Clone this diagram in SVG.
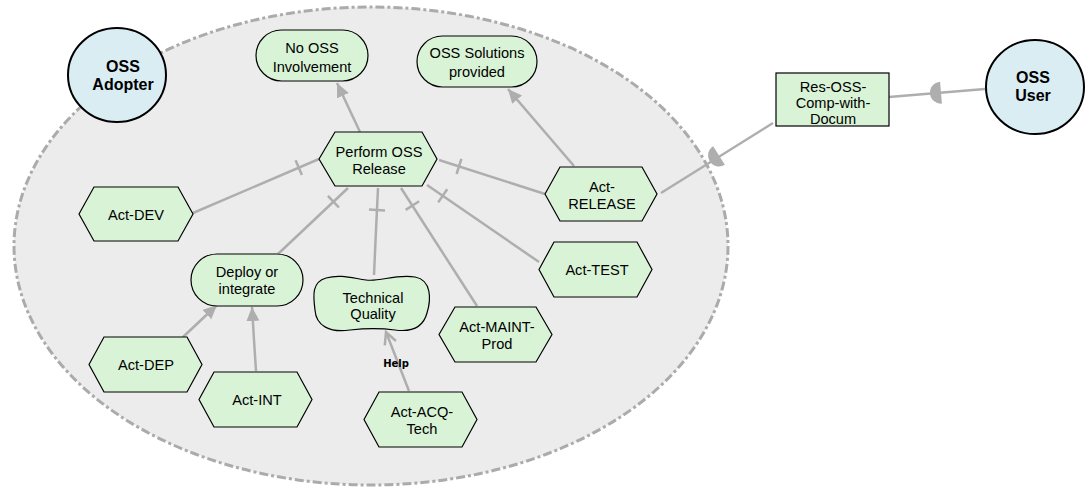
<svg xmlns="http://www.w3.org/2000/svg" width="1089" height="492" viewBox="0 0 1089 492">
<defs>
<style>
.bd{fill:#ececec;stroke:#ababab;stroke-width:3;stroke-dasharray:9 3 3 3}
.act{fill:#d9edf3;stroke:#000;stroke-width:2}
.n{fill:#d9f3d7;stroke:#000;stroke-width:1.2}
.t{font-family:"Liberation Sans",Arial,sans-serif;font-size:14.6px;fill:#000;text-anchor:middle}
.ta{font-family:"Liberation Sans",Arial,sans-serif;font-size:16px;font-weight:bold;fill:#000;text-anchor:middle}
.lk{fill:none;stroke:#aeaeae;stroke-width:2.5}
.bar{stroke:#aeaeae;stroke-width:2.5}
.dd{fill:#aeaeae}
.hl{font-family:"DejaVu Sans",sans-serif;font-size:10px;font-weight:bold;fill:#000;text-anchor:middle}
</style>
<marker id="ah" markerUnits="userSpaceOnUse" markerWidth="16" markerHeight="14" refX="14" refY="6.5" orient="auto">
<path d="M0,0 L14,6.5 L0,13 Z" fill="#aeaeae"/>
</marker>
<marker id="ao" markerUnits="userSpaceOnUse" markerWidth="18" markerHeight="18" refX="13" refY="8" orient="auto">
<path d="M1,2 L13,8 L1,14" fill="none" stroke="#aeaeae" stroke-width="2.5"/>
</marker>
</defs>

<ellipse id="boundary" class="bd" cx="371" cy="246" rx="357" ry="239"/>

<g id="connectors">
<line class="lk" x1="360" y1="132" x2="337" y2="83" marker-end="url(#ah)"/>
<line class="lk" x1="574" y1="166" x2="508" y2="89" marker-end="url(#ah)"/>
<line class="lk" x1="183" y1="337" x2="217" y2="305" marker-end="url(#ah)"/>
<path class="lk" d="M256,371 L254,340 L252,307" marker-end="url(#ah)"/>
<line class="lk" x1="409" y1="391" x2="386" y2="332" marker-end="url(#ao)"/>
<line class="lk" x1="193" y1="213" x2="319" y2="159"/>
<line class="bar" x1="301.9" y1="175.1" x2="295.6" y2="160.3"/>
<line class="lk" x1="278" y1="254" x2="348" y2="188"/>
<line class="bar" x1="338.9" y1="207.5" x2="327.9" y2="195.9"/>
<path class="lk" d="M374,275 L376,230 L378,188"/>
<line class="bar" x1="385" y1="210.4" x2="369" y2="209.6"/>
<line class="lk" x1="477" y1="306" x2="401" y2="188"/>
<line class="bar" x1="419.1" y1="201.3" x2="405.7" y2="209.9"/>
<line class="lk" x1="539" y1="262" x2="427" y2="185"/>
<line class="bar" x1="447.2" y1="189.2" x2="438.2" y2="202.4"/>
<line class="lk" x1="545" y1="194" x2="439" y2="160"/>
<line class="bar" x1="461.4" y1="158.8" x2="456.6" y2="174"/>
<line class="lk" x1="985" y1="89" x2="889" y2="97"/>
<path class="dd" d="M0,-11 A11,11 0 0 0 0,11 Z" transform="translate(941,92.7) rotate(-4.8)"/>
<line class="lk" x1="773" y1="123" x2="661" y2="193"/>
<path class="dd" d="M0,-11 A11,11 0 0 0 0,11 Z" transform="translate(719,155.5) rotate(-32)"/>
<text class="hl" x="396" y="367">Help</text>
</g>

<g id="oss-adopter">
<ellipse class="act" cx="117" cy="75" rx="49" ry="47"/>
<text class="ta" x="123" y="72">OSS</text>
<text class="ta" x="123" y="90">Adopter</text>
</g>

<g id="oss-user">
<ellipse class="act" cx="1035" cy="87" rx="49" ry="47"/>
<text class="ta" x="1033" y="83">OSS</text>
<text class="ta" x="1033" y="101">User</text>
</g>

<g id="res-oss">
<rect class="n" x="776" y="73" width="113" height="53"/>
<text class="t" x="833" y="92">Res-OSS-</text>
<text class="t" x="833" y="108">Comp-with-</text>
<text class="t" x="833" y="124">Docum</text>
</g>

<g id="no-oss">
<rect class="n" x="256" y="30" width="112" height="51" rx="25.5"/>
<text class="t" x="312" y="53">No OSS</text>
<text class="t" x="312" y="72">Involvement</text>
</g>

<g id="oss-solutions">
<rect class="n" x="417" y="36" width="120" height="51" rx="25.5"/>
<text class="t" x="477" y="58">OSS Solutions</text>
<text class="t" x="477" y="77">provided</text>
</g>

<g id="perform">
<path class="n" d="M319,159 L335,132 L422,132 L437,159 L422,186 L335,186 Z"/>
<text class="t" x="379" y="157">Perform OSS</text>
<text class="t" x="379" y="174">Release</text>
</g>

<g id="act-dev">
<path class="n" d="M79,214 L94,187 L178,187 L193,214 L178,241 L94,241 Z"/>
<text class="t" x="136" y="219.5">Act-DEV</text>
</g>

<g id="act-release">
<path class="n" d="M545,194 L560,167 L642,167 L657,194 L642,221 L560,221 Z"/>
<text class="t" x="602" y="192">Act-</text>
<text class="t" x="602" y="209">RELEASE</text>
</g>

<g id="act-test">
<path class="n" d="M539,269.5 L554,242 L637,242 L652,269.5 L637,297 L554,297 Z"/>
<text class="t" x="597" y="275">Act-TEST</text>
</g>

<g id="deploy">
<rect class="n" x="191" y="254" width="112" height="52" rx="26"/>
<text class="t" x="247" y="277">Deploy or</text>
<text class="t" x="247" y="294">integrate</text>
</g>

<g id="tech-quality">
<path class="n" d="M326,278 C340,274 352,278 366,280 C380,282 395,274 415,277 C432,280 431,300 427,313 C423,328 410,332 395,330 C380,328 368,328 350,330 C330,333 316,326 315,310 C313,295 312,282 326,278 Z"/>
<text class="t" x="373" y="303">Technical</text>
<text class="t" x="373" y="319">Quality</text>
</g>

<g id="act-maint">
<path class="n" d="M439,334.5 L455,307 L536,307 L552,334.5 L536,362 L455,362 Z"/>
<text class="t" x="497" y="332">Act-MAINT-</text>
<text class="t" x="497" y="349">Prod</text>
</g>

<g id="act-dep">
<path class="n" d="M89,364.5 L104,337 L187,337 L202,364.5 L187,392 L104,392 Z"/>
<text class="t" x="146" y="370">Act-DEP</text>
</g>

<g id="act-int">
<path class="n" d="M199,399.5 L214,372 L297,372 L312,399.5 L297,427 L214,427 Z"/>
<text class="t" x="257" y="405">Act-INT</text>
</g>

<g id="act-acq">
<path class="n" d="M364,419.5 L379,392 L462,392 L477,419.5 L462,447 L379,447 Z"/>
<text class="t" x="422" y="417">Act-ACQ-</text>
<text class="t" x="422" y="434">Tech</text>
</g>
</svg>
